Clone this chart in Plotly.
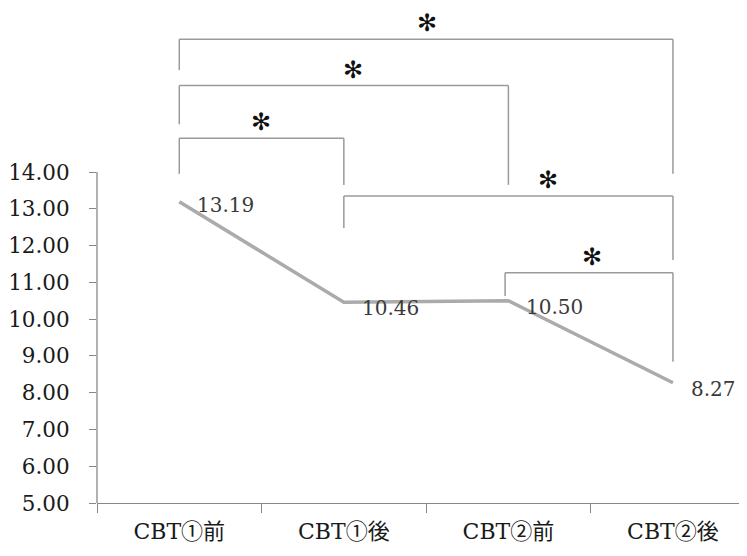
import plotly.graph_objects as go

categories = ["CBT①前", "CBT①後", "CBT②前", "CBT②後"]
scores = [13.19, 10.46, 10.50, 8.27]
score_labels = ["13.19", "10.46", "10.50", "8.27"]
y_ticks = [5, 6, 7, 8, 9, 10, 11, 12, 13, 14]
y_tick_labels = ["%.2f" % v for v in y_ticks]

# significance brackets:
# (left x, right x, top y, left leg bottom y, right leg bottom y, star x)
brackets = [
    (0.0, 3.0, 17.61, 16.77, 13.95, 1.505),
    (0.0, 2.0, 16.35, 15.30, 13.65, 1.055),
    (0.0, 1.0, 14.92, 13.95, 13.65, 0.496),
    (1.0, 3.0, 13.35, 12.48, 11.61, 2.24),
    (1.98, 3.0, 11.26, 10.63, 8.84, 2.507),
]

fig = go.Figure()
fig.add_trace(go.Scatter(
    x=categories, y=scores, mode="lines",
    line=dict(color="#ababab", width=3.5), hoverinfo="skip", showlegend=False,
))

ys = [-3, -6, -6, -6]
for c, v, t, dy in zip(categories, scores, score_labels, ys):
    fig.add_annotation(x=c, y=v, text=t, showarrow=False, xanchor="left",
                       xshift=16, yshift=dy,
                       font=dict(family="DejaVu Serif", size=20, color="#3a3a3a"))

bcol = "#9a9a9a"
for a, b, top, l, r, sx in brackets:
    fig.add_shape(type="line", x0=a, x1=b, y0=top, y1=top, xref="x", yref="y",
                  line=dict(color=bcol, width=1.5))
    fig.add_shape(type="line", x0=a, x1=a, y0=top, y1=l, xref="x", yref="y",
                  line=dict(color=bcol, width=1.5))
    fig.add_shape(type="line", x0=b, x1=b, y0=top, y1=r, xref="x", yref="y",
                  line=dict(color=bcol, width=1.5))
    fig.add_annotation(x=sx, y=top, text="✻", showarrow=False,
                       yanchor="bottom", yshift=0, xref="x", yref="y",
                       font=dict(family="DejaVu Sans", size=24, color="#111111"))

# y-axis line from 5 to 14
fig.add_shape(type="line", xref="paper", yref="y", x0=0, x1=0, y0=5, y1=14,
              line=dict(color="#888888", width=1.3))

fig.update_layout(
    width=739, height=548,
    margin=dict(l=89, r=0, t=0, b=53, autoexpand=False),
    paper_bgcolor="white", plot_bgcolor="white",
    xaxis=dict(
        type="category", range=[-0.5, 3.45], showline=True, linecolor="#888888", linewidth=1.3,
        ticks="outside", tickson="boundaries", ticklen=9, tickcolor="#888888", tickwidth=1.3,
        showgrid=False, zeroline=False, automargin=False, ticklabelstandoff=8,
        tickfont=dict(family="DejaVu Serif, Noto Sans CJK JP", size=22, color="#1a1a1a"),
    ),
    yaxis=dict(
        range=[5, 18.46], tickvals=y_ticks, ticktext=y_tick_labels, showline=False,
        ticks="outside", ticklen=7, tickcolor="#888888", tickwidth=1.3,
        showgrid=False, zeroline=False, automargin=False, ticklabelstandoff=15,
        tickfont=dict(family="DejaVu Serif", size=21.5, color="#1a1a1a"),
    ),
)

fig.write_html("out.html")
